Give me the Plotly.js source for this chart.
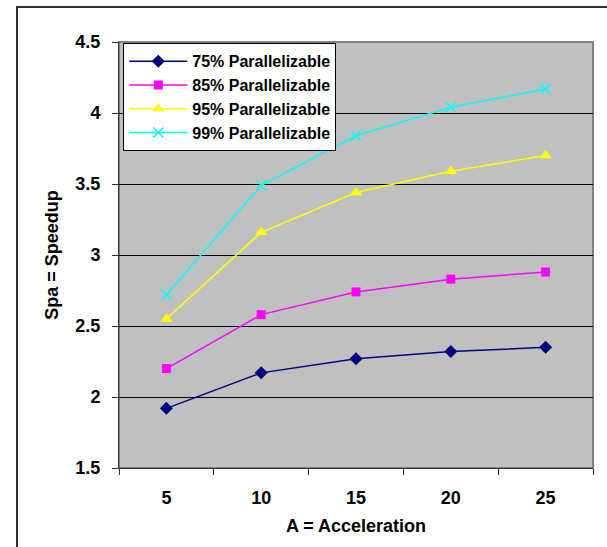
<!DOCTYPE html>
<html>
<head>
<meta charset="utf-8">
<script src="https://cdn.plot.ly/plotly-3.0.1.min.js"></script>
<style>html,body{margin:0;padding:0;background:#fff;}#chart{width:607px;height:547px;}</style>
</head>
<body>
<div id="chart"></div>
<script>
// Data
const acceleration = ['5', '10', '15', '20', '25'];
const par75 = [1.92, 2.17, 2.27, 2.32, 2.35];
const par85 = [2.20, 2.58, 2.74, 2.83, 2.88];
const par95 = [2.55, 3.16, 3.44, 3.59, 3.70];
const par99 = [2.72, 3.49, 3.84, 4.04, 4.17];
const seriesNames = ['75% Parallelizable', '85% Parallelizable', '95% Parallelizable', '99% Parallelizable'];
const yTicks = [1.5, 2, 2.5, 3, 3.5, 4, 4.5];

const FONT = 'Arial, "Liberation Sans", Helvetica, sans-serif';

function trace(name, y, color, symbol, size, extra) {
  return Object.assign({
    type: 'scatter', mode: 'lines+markers', name: name,
    x: acceleration, y: y,
    line: {color: color, width: 1.5},
    marker: {color: color, symbol: symbol, size: size, line: {width: 0}},
    cliponaxis: false
  }, extra || {});
}

const data = [
  trace(seriesNames[0], par75, '#000080', 'diamond', 10),
  trace(seriesNames[1], par85, '#FF00FF', 'square', 9),
  trace(seriesNames[2], par95, '#FFFF00', 'triangle-up', 11),
  trace(seriesNames[3], par99, '#00FFFF', 'x-thin-open', 10,
        {marker: {color: '#00FFFF', symbol: 'x-thin-open', size: 10, line: {width: 1.5, color: '#00FFFF'}}})
];

const layout = {
  width: 607, height: 547,
  margin: {l: 119, r: 14, t: 42, b: 79},
  paper_bgcolor: '#FFFFFF',
  plot_bgcolor: '#C0C0C0',
  font: {family: FONT, size: 16, color: '#000'},
  showlegend: true,
  legend: {
    x: 0.009, y: 0.997, xanchor: 'left', yanchor: 'top',
    bgcolor: '#FFFFFF', bordercolor: '#000000', borderwidth: 1,
    font: {family: FONT, size: 16, color: '#000', weight: 'bold'},
    itemwidth: 58,
    entrywidth: 155, entrywidthmode: 'pixels',
    tracegroupgap: 0
  },
  xaxis: {
    type: 'category',
    range: [-0.5, 4.5],
    tickson: 'boundaries',
    ticks: 'outside', ticklen: 6, tickcolor: '#333', tickwidth: 1,
    showline: true, linecolor: '#333', linewidth: 1,
    showgrid: false, zeroline: false,
    ticklabelstandoff: 13,
    tickfont: {family: FONT, size: 18, weight: 'bold'},
    title: {text: 'A = Acceleration', font: {family: FONT, size: 18, weight: 'bold'}, standoff: 12},
    fixedrange: true
  },
  yaxis: {
    range: [1.5, 4.5],
    tickvals: yTicks,
    ticks: 'outside', ticklen: 6, tickcolor: '#333', tickwidth: 1,
    showline: true, linecolor: '#333', linewidth: 1,
    showgrid: true, gridcolor: '#000000', gridwidth: 1,
    zeroline: false,
    ticklabelstandoff: 8,
    tickfont: {family: FONT, size: 18, weight: 'bold'},
    title: {text: 'Spa = Speedup', font: {family: FONT, size: 18, weight: 'bold'}, standoff: 12},
    fixedrange: true
  },
  shapes: [
    {type: 'rect', xref: 'paper', yref: 'paper', x0: 0, x1: 1, y0: 0, y1: 1,
     line: {color: '#808080', width: 2}, layer: 'below'},
    {type: 'rect', xref: 'paper', yref: 'paper', x0: -0.2152, x1: 1.2, y0: -0.3, y1: 1.0822,
     line: {color: '#333333', width: 2}, fillcolor: 'rgba(0,0,0,0)', layer: 'above'}
  ]
};

Plotly.newPlot('chart', data, layout, {staticPlot: true, displayModeBar: false});
</script>
</body>
</html>
